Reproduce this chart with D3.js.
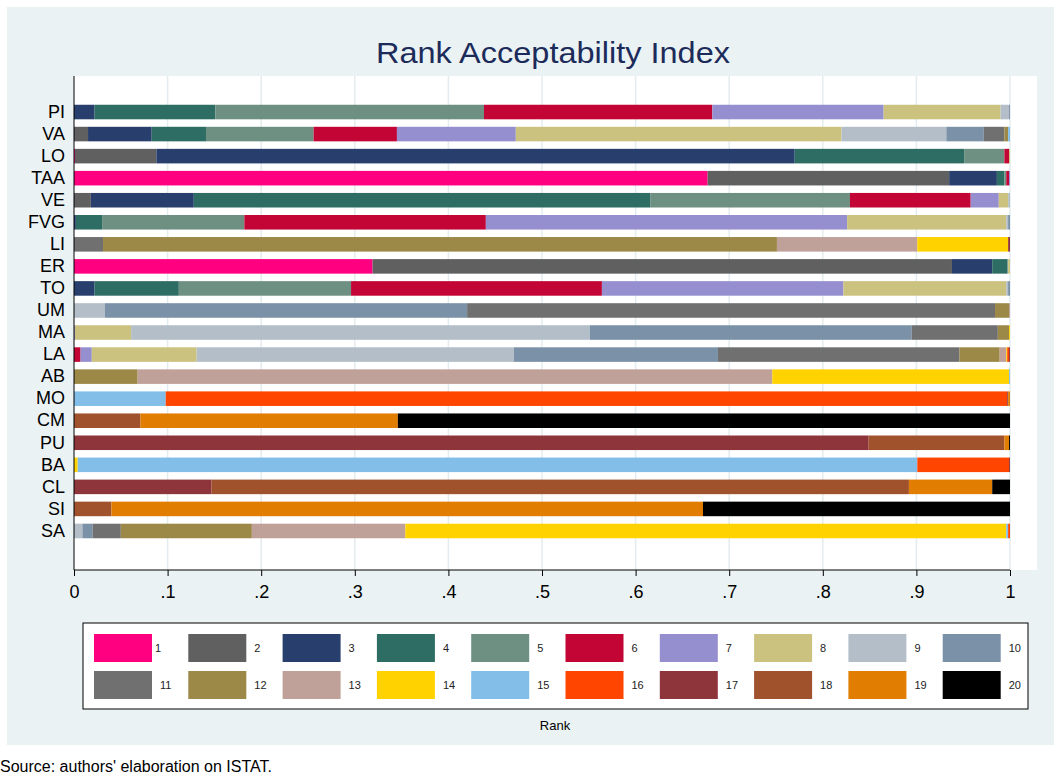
<!DOCTYPE html>
<html>
<head>
<meta charset="utf-8">
<script src="https://cdn.jsdelivr.net/npm/d3@7"></script>
<style>
  body { margin: 0; background: #fff; }
  svg { display: block; font-family: "Liberation Sans", Arial, sans-serif; }
</style>
</head>
<body>
<div id="chart"></div>
<script>
// regions, top to bottom
var regions = ["PI","VA","LO","TAA","VE","FVG","LI","ER","TO","UM","MA","LA","AB","MO","CM","PU","BA","CL","SI","SA"];

// share of each rank 1..20 for every region
var sharePI  = [0,0,.022,.129,.287,.244,.183,.125,.009,.001, 0,0,0,0,0,0,0,0,0,0];
var shareVA  = [0,.015,.068,.058,.115,.089,.127,.348,.112,.040, .022,.004,0,0,.002,0,0,0,0,0];
var shareLO  = [.001,.087,.682,.181,.043,.005,0,.001,0,0, 0,0,0,0,0,0,0,0,0,0];
var shareTAA = [.677,.258,.051,.008,.002,.003,.001,0,0,0, 0,0,0,0,0,0,0,0,0,0];
var shareVE  = [0,.018,.110,.488,.213,.129,.030,.010,.002,0, 0,0,0,0,0,0,0,0,0,0];
var shareFVG = [0,0,.002,.028,.152,.258,.386,.170,.002,.002, 0,0,0,0,0,0,0,0,0,0];
var shareLI  = [0,0,0,0,0,0,0,0,0,0, .031,.720,.150,.097,0,0,.002,0,0,0];
var shareER  = [.319,.619,.043,.016,.001,0,0,.002,0,0, 0,0,0,0,0,0,0,0,0,0];
var shareTO  = [0,0,.022,.090,.184,.268,.258,.174,.002,.002, 0,0,0,0,0,0,0,0,0,0];
var shareUM  = [0,0,0,0,0,0,0,0,.033,.387, .564,.015,.001,0,0,0,0,0,0,0];
var shareMA  = [0,0,0,0,0,0,.001,.060,.490,.344, .092,.012,0,.001,0,0,0,0,0,0];
var shareLA  = [0,0,0,0,0,.007,.012,.112,.339,.218, .258,.043,.007,.001,0,.002,.001,0,0,0];
var shareAB  = [0,0,0,0,0,0,0,0,0,0, 0,.068,.678,.253,.001,0,0,0,0,0];
var shareMO  = [0,0,0,0,0,0,0,0,0,0, 0,0,0,0,.098,.899,.001,0,.002,0];
var shareCM  = [0,0,0,0,0,0,0,0,0,0, 0,0,0,0,0,0,0,.071,.275,.654];
var sharePU  = [0,0,0,0,0,0,0,0,0,0, 0,0,0,0,0,0,.849,.145,.005,.001];
var shareBA  = [0,0,0,0,0,0,0,0,0,0, 0,0,0,.004,.897,.098,.001,0,0,0];
var shareCL  = [0,0,0,0,0,0,0,0,0,0, 0,0,0,0,0,0,.147,.745,.089,.019];
var shareSI  = [0,0,0,0,0,0,0,0,0,0, 0,0,0,0,0,0,0,.040,.632,.328];
var shareSA  = [0,0,0,0,0,0,0,0,.009,.011, .030,.140,.164,.642,.002,.002,0,0,0,0];

var ranks = ["1","2","3","4","5","6","7","8","9","10","11","12","13","14","15","16","17","18","19","20"];
var rankColors = ["#ff0080","#606060","#283f6e","#2e6d64","#6e9083","#c20535","#958fd0","#cbc280","#b3bec8","#7a91a7",
                  "#707070","#9c8847","#bfa19a","#ffd200","#82bee8","#ff4500","#8e353c","#a0522d","#e17d00","#000000"];
var xTicks = [0,.1,.2,.3,.4,.5,.6,.7,.8,.9,1];

var shares = [sharePI,shareVA,shareLO,shareTAA,shareVE,shareFVG,shareLI,shareER,shareTO,shareUM,
              shareMA,shareLA,shareAB,shareMO,shareCM,sharePU,shareBA,shareCL,shareSI,shareSA];

// build table for d3.stack
var table = regions.map(function(r, i) {
  var row = {region: r};
  ranks.forEach(function(k, j) { row[k] = shares[i][j]; });
  return row;
});

var width = 1054, height = 776;
var plotLeft = 74, plotRight = 1010, plotTop = 76, plotBottom = 570;

var svg = d3.select("#chart").append("svg")
    .attr("width", width)
    .attr("height", height);

// graph region background
svg.append("rect")
    .attr("x", 7).attr("y", 7)
    .attr("width", width - 7).attr("height", 738)
    .attr("fill", "#eaf2f3");

// plot region
svg.append("rect")
    .attr("x", plotLeft).attr("y", plotTop)
    .attr("width", 1037 - plotLeft).attr("height", plotBottom - plotTop)
    .attr("fill", "#fff");

var x = d3.scaleLinear().domain([0, 1]).range([plotLeft, plotRight]);
var y = d3.scaleBand().domain(regions).range([101, 542]).paddingInner(0.34).paddingOuter(0.17);
var color = d3.scaleOrdinal().domain(ranks).range(rankColors);

// gridlines
svg.append("g")
  .selectAll("line")
  .data(xTicks.slice(1))
  .enter().append("line")
    .attr("x1", function(d) { return x(d); })
    .attr("x2", function(d) { return x(d); })
    .attr("y1", plotTop).attr("y2", plotBottom)
    .attr("stroke", "#e3ecee")
    .attr("stroke-width", 1.5);

var stacked = d3.stack().keys(ranks)(table);

svg.append("g")
  .selectAll("g")
  .data(stacked)
  .enter().append("g")
    .attr("fill", function(d) { return color(d.key); })
  .selectAll("rect")
  .data(function(d) { return d; })
  .enter().append("rect")
    .attr("x", function(d) { return x(d[0]); })
    .attr("y", function(d) { return y(d.data.region); })
    .attr("width", function(d) { return x(d[1]) - x(d[0]); })
    .attr("height", y.bandwidth());

// x axis
var xAxis = d3.axisBottom(x)
    .tickValues(xTicks)
    .tickSize(6)
    .tickFormat(function(d) { return d === 0 ? "0" : d === 1 ? "1" : d3.format(".1f")(d).replace(/^0/, ""); });

var gx = svg.append("g")
    .attr("transform", "translate(0," + plotBottom + ")")
    .call(xAxis);
gx.select(".domain").attr("stroke", "#000").attr("d", "M" + plotLeft + ",0H" + plotRight);
gx.selectAll(".tick line").attr("stroke", "#000");
gx.selectAll("text")
    .attr("font-size", 18)
    .attr("font-family", "Liberation Sans, Arial, sans-serif")
    .attr("fill", "#000")
    .attr("dy", "1.05em");

// y axis
var yAxis = d3.axisLeft(y).tickSize(0).tickPadding(9);
var gy = svg.append("g")
    .attr("transform", "translate(" + plotLeft + ",0)")
    .call(yAxis);
gy.select(".domain").attr("stroke", "#000").attr("d", "M0," + plotTop + "V" + plotBottom);
gy.selectAll("text")
    .attr("font-size", 18)
    .attr("font-family", "Liberation Sans, Arial, sans-serif")
    .attr("fill", "#000");

// title
svg.append("text")
    .attr("x", 553).attr("y", 63)
    .attr("text-anchor", "middle")
    .attr("font-size", 29)
    .attr("textLength", 354)
    .attr("lengthAdjust", "spacingAndGlyphs")
    .attr("fill", "#1c2b5a")
    .text("Rank Acceptability Index");

// legend
var legend = svg.append("g");
legend.append("rect")
    .attr("x", 83).attr("y", 623)
    .attr("width", 945).attr("height", 86)
    .attr("fill", "#fff")
    .attr("stroke", "#000")
    .attr("stroke-width", 1);

var keys = legend.selectAll("g.key")
  .data(ranks)
  .enter().append("g")
    .attr("class", "key")
    .attr("transform", function(d, i) {
      return "translate(" + (94 + (i % 10) * 94.3) + "," + (634 + Math.floor(i / 10) * 37) + ")";
    });
keys.append("rect")
    .attr("width", 58).attr("height", 28)
    .attr("fill", function(d) { return color(d); });
keys.append("text")
    .attr("x", function(d, i) { return i === 0 ? 61 : 66; })
    .attr("y", 14)
    .attr("dy", "0.35em")
    .attr("font-size", 11)
    .attr("fill", "#222")
    .text(function(d) { return d; });

svg.append("text")
    .attr("x", 555).attr("y", 730)
    .attr("text-anchor", "middle")
    .attr("font-size", 13)
    .attr("fill", "#000")
    .text("Rank");

svg.append("text")
    .attr("x", 0).attr("y", 772)
    .attr("font-size", 16)
    .attr("fill", "#000")
    .text("Source: authors' elaboration on ISTAT.");
</script>
</body>
</html>
